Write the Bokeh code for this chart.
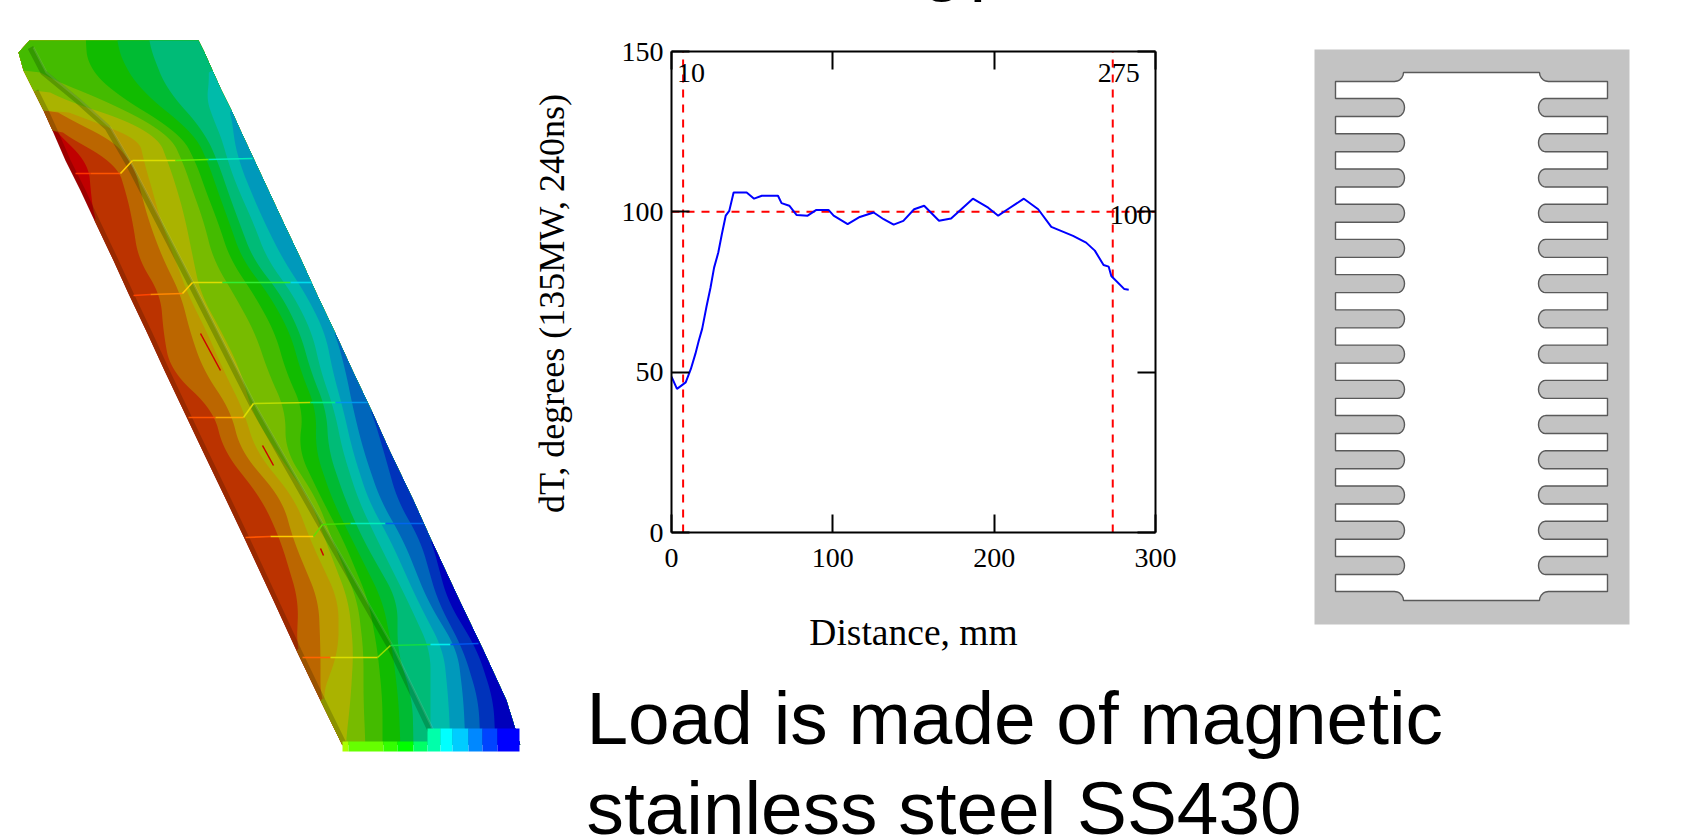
from bokeh.plotting import figure
from bokeh.models import Range1d, LinearAxis, FixedTicker
from bokeh.core.properties import value
from bokeh.embed import file_html
from bokeh.resources import INLINE
import numpy as np

# ---------- chart data ----------
distance_mm = [0, 3.4, 8.8, 12, 14.8, 16.9, 19, 21.8, 24.2, 26.4, 29, 31.2, 33.6, 35.8, 38.5, 46.6, 51.2, 56, 66,
               68.2, 73, 77.6, 84.4, 89.8, 97.3, 100.5, 109.2, 116.7, 125.3, 131.5, 137.7, 143.7, 150.4, 156.6,
               165.8, 173.3, 186.8, 196.3, 202.5, 208.4, 218.4, 227.3, 235.4, 248.9, 257, 262.4, 267.8, 271,
               272.6, 280.7, 283.4]
delta_t = [48.6, 44.8, 46.8, 51, 55.7, 59.8, 63.5, 70.7, 76.4, 82.6, 87.3, 93, 98.8, 100.3, 106, 106, 104.1, 105, 105,
           102.7, 101.9, 99, 98.8, 100.6, 100.6, 98.8, 96.2, 98.4, 99.8, 97.7, 96, 97.2, 100.8, 101.9,
           97.2, 97.9, 104.1, 101.3, 98.8, 100.8, 104.1, 100.8, 95.3, 92.5, 90.4, 87.9, 83.4, 82.9,
           80, 75.9, 75.7]
marker_x = [7.2, 273.5]
marker_y = [100]
x_ticks = [0, 100, 200, 300]
y_ticks = [0, 50, 100, 150]

# ---------- thermal map contour table ----------
band_colors = ["#C00000", "#BB3300", "#BB6600", "#BB9900", "#AAB300", "#77BB00", "#44BB00", "#11BB00",
               "#00BB33", "#00BB77", "#00BBAA", "#0099BB", "#0066BB", "#0033BB", "#0000BB"]
# y, left edge, end of band 0..13, right edge
map_rows = [
 [40, 29, 29, 29, 29, 29, 29, 29, 85, 115, 147, 198, 198, 198, 198, 198, 198],
 [52, 18, 18, 18, 18, 18, 18, 18, 86, 120, 152, 204, 204, 204, 204, 204, 204],
 [70, 23, 23, 23, 23, 23, 23, 23, 88, 125, 158, 212, 212, 212, 212, 212, 212],
 [90, 33, 33, 33, 33, 33, 33, 85, 112, 142, 167, 205, 221, 221, 221, 221, 221],
 [110, 43, 43, 43, 43, 43, 97, 122, 140, 163, 185, 208, 231, 231, 231, 231, 231],
 [130, 52, 52, 52, 100, 137, 155, 167, 178, 192, 203, 219, 232, 240, 240, 240, 240],
 [160, 65, 88, 115, 132, 143, 167, 182, 195, 207, 217, 227, 238, 254, 254, 254, 254],
 [190, 80, 90, 125, 140, 152, 177, 192, 205, 217, 227, 238, 250, 268, 268, 268, 268],
 [220, 94, 94, 132, 148, 160, 185, 203, 217, 228, 238, 252, 263, 282, 282, 282, 282],
 [260, 113, 113, 138, 163, 175, 193, 213, 230, 242, 253, 267, 283, 301, 301, 301, 301],
 [293, 128, 128, 160, 180, 187, 200, 233, 253, 268, 280, 292, 305, 316, 316, 316, 316],
 [333, 147, 147, 163, 190, 207, 222, 255, 275, 290, 300, 312, 325, 335, 335, 335, 335],
 [370, 164, 164, 170, 203, 223, 240, 267, 285, 300, 310, 320, 332, 345, 352, 352, 352],
 [410, 183, 183, 213, 230, 243, 251, 285, 303, 316, 326, 334, 343, 353, 371, 371, 371],
 [450, 202, 202, 223, 240, 255, 275, 285, 298, 315, 328, 342, 352, 363, 383, 389, 389],
 [500, 226, 226, 262, 282, 295, 310, 317, 322, 332, 345, 358, 368, 380, 397, 413, 413],
 [540, 245, 245, 280, 293, 310, 325, 332, 343, 352, 363, 377, 390, 403, 420, 431, 431],
 [600, 273, 273, 298, 318, 338, 348, 357, 368, 382, 397, 407, 417, 427, 437, 447, 459],
 [650, 296, 296, 296, 320, 338, 353, 363, 377, 392, 397, 430, 443, 457, 463, 477, 483],
 [700, 320, 320, 320, 320, 320, 350, 363, 382, 398, 412, 430, 448, 463, 478, 493, 506],
 [745, 342, 342, 342, 342, 342, 345, 365, 382, 400, 413, 430, 450, 465, 480, 495, 520],
]
end_face_edges = [342, 348, 383, 397, 413, 427, 440, 452, 468, 482, 497, 519]
end_face_colors = ["#AAFF00", "#66FF00", "#33FF00", "#00FF00", "#00FF66", "#00FFAA", "#00FFFF", "#00CCFF",
                   "#0088FF", "#0044FF", "#0000FF"]
ridge_x = [30, 43, 77, 107, 128, 190, 252, 322, 390, 430]
ridge_y = [47, 72, 100, 127, 163, 283, 405, 528, 647, 730]
seams = [
 ([75, 90, 120, 132, 175, 208, 252], [173, 173, 173, 160, 160, 159, 158],
  ["#FF3300", "#FF5500", "#FFCC00", "#DDDD00", "#66EE00", "#00EEBB"]),
 ([133, 150, 182, 192, 222, 290, 311], [295, 294, 293, 282, 282, 282, 282],
  ["#FF4400", "#FF8800", "#FFCC00", "#DDDD00", "#33EE33", "#00DDEE"]),
 ([188, 215, 243, 253, 310, 335, 367], [417, 417, 417, 403, 402, 402, 402],
  ["#FF5500", "#FFAA00", "#DDDD00", "#BBDD00", "#00EE88", "#0099EE"]),
 ([245, 270, 313, 322, 350, 385, 423], [537, 536, 536, 524, 523, 523, 523],
  ["#FF5500", "#FFCC00", "#66DD00", "#44DD00", "#00EEBB", "#0066EE"]),
 ([302, 330, 377, 390, 430, 450, 478], [657, 657, 657, 645, 644, 644, 643],
  ["#FF6600", "#DDDD00", "#99DD00", "#11DD44", "#00EEEE", "#0055EE"]),
]
flecks = [([200, 220], [333, 370]), ([262, 273], [445, 465]), ([320, 323], [548, 555])]

# ---------- comb outline ----------
n_fins = 14
fin_pitch = 35.23
sans = "Liberation Sans"
serif = "Liberation Serif"


def place(f, x, y):
    f.styles = {"position": "absolute", "left": f"{x}px", "top": f"{y}px"}
    return f


def blank(w, h, x0, y0):
    f = figure(width=w, height=h, output_backend="svg", toolbar_location=None,
               x_range=Range1d(x0, x0 + w), y_range=Range1d(y0 + h, y0),
               min_border=0, outline_line_color=None, background_fill_color=None, border_fill_color=None,
               x_axis_location=None, y_axis_location=None)
    f.grid.visible = False
    return place(f, x0, y0)


# ---------- left panel ----------
left = blank(530, 836, 0, 0)
table = np.array(map_rows, dtype=float)
ys = table[:, 0]
yy = np.arange(ys[0], ys[-1] + 1, 2.0)
left_edge = np.interp(yy, ys, table[:, 1])
right_edge = np.interp(yy, ys, table[:, -1])


def smooth(col):
    v = np.interp(yy, ys, col)
    n = 19
    pad = np.r_[np.full(n, v[0]), v, np.full(n, v[-1])]
    s = np.convolve(pad, np.ones(n) / n, mode="same")[n:-n]
    s = np.where(v <= left_edge + 0.01, left_edge, s)
    s = np.where(v >= right_edge - 0.01, right_edge, s)
    return np.clip(s, left_edge, right_edge)


left.patch(np.r_[left_edge, right_edge[::-1]], np.r_[yy, yy[::-1]], fill_color=band_colors[0], line_color=None)
for k in range(1, len(band_colors)):
    b = smooth(table[:, k + 1])
    left.patch(np.r_[b, right_edge[::-1]], np.r_[yy, yy[::-1]], fill_color=band_colors[k], line_color=None)
left.line(table[3:, 1] + 2.5, ys[3:], line_color="black", line_alpha=0.18, line_width=5)
left.line(ridge_x, ridge_y, line_color="#003300", line_alpha=0.25, line_width=6)
left.line(np.array(ridge_x) + 3, ridge_y, line_color="white", line_alpha=0.12, line_width=2)
for xs_f, ys_f in flecks:
    left.line(xs_f, ys_f, line_color="#CC0000", line_width=1.5)
for sx, sy, sc in seams:
    for i, c in enumerate(sc):
        left.line(sx[i:i + 2], sy[i:i + 2], line_color=c, line_width=1.6)
for i, c in enumerate(end_face_colors):
    a, b = end_face_edges[i], end_face_edges[i + 1]
    top = 741 if b <= 427 else 728
    left.quad(left=a, right=b, top=top, bottom=751, fill_color=c, line_color=None)

# ---------- chart ----------
p = figure(width=770, height=720, output_backend="svg", toolbar_location=None,
           x_range=Range1d(0, 300), y_range=Range1d(0, 150),
           min_border_left=141, min_border_right=145, min_border_top=51, min_border_bottom=188,
           x_axis_location=None, y_axis_location=None,
           outline_line_color=None, background_fill_color=None, border_fill_color=None)
place(p, 530, 0)
p.grid.visible = False
for side, ticks in (("below", x_ticks), ("above", x_ticks), ("left", y_ticks), ("right", y_ticks)):
    ax = LinearAxis(ticker=FixedTicker(ticks=ticks))
    ax.major_tick_in = 18
    ax.major_tick_out = 0
    ax.minor_tick_in = 0
    ax.minor_tick_out = 0
    ax.axis_line_color = "black"
    ax.axis_line_width = 2
    ax.major_tick_line_color = "black"
    ax.major_tick_line_width = 2
    ax.major_label_text_font = serif
    ax.major_label_text_font_size = "28px"
    ax.major_label_text_color = "black"
    if side in ("above", "right"):
        ax.major_label_text_font_size = "0px"
        ax.major_label_text_color = None
    if side == "below":
        ax.axis_label = "Distance, mm"
        ax.axis_label_text_font = serif
        ax.axis_label_text_font_style = "normal"
        ax.axis_label_text_color = "black"
        ax.axis_label_text_font_size = "37.5px"
        ax.axis_label_standoff = 42
        ax.major_label_standoff = 16
    if side == "left":
        ax.major_label_standoff = 8
    p.add_layout(ax, side)
dash = "8 7"
for mx in marker_x:
    p.line([mx, mx], [0, 150], line_color="#FF0000", line_width=2, line_dash=dash)
p.line([0, 300], [marker_y[0], marker_y[0]], line_color="#FF0000", line_width=2, line_dash=dash)
p.line(distance_mm, delta_t, line_color="#0000FF", line_width=2)
for txt, tx, ty, dx, dy in (("10", marker_x[0], 150, 8, 21), ("275", marker_x[1], 150, 6, 21), ("100", marker_x[1], 100, 18, 3)):
    p.text([tx], [ty], text=[txt], text_font=value(serif), text_font_size="28px", text_color="black",
           text_align="center", text_baseline="middle", x_offset=dx, y_offset=dy)

# ---------- rotated y title ----------
yt = blank(80, 500, 515, 55)
yt.text([551], [303], text=["dT, degrees (135MW, 240ns)"], text_font=value(serif), text_font_size="36px",
        text_color="black", text_align="center", text_baseline="middle", angle=np.pi / 2)

# ---------- cut-off heading above the chart ----------
top_text = blank(200, 130, 850, -100)
for frag, fx in (("g", 921), ("p", 969)):
    top_text.text([fx], [-13], text=[frag], text_font=value(sans), text_font_size="74.8px", text_color="black",
                  text_align="left", text_baseline="alphabetic", y_offset=-27)

# ---------- comb panel ----------
r = blank(403, 650, 1300, 0)
r.quad(left=1314, right=1629, top=49, bottom=624, fill_color="#C3C3C3", line_color=None)
th = np.linspace(-np.pi / 2, np.pi / 2, 13)
t2 = np.linspace(0, np.pi / 2, 6)
xl = list(1394 + 9 * np.cos(t2))
yl = list(72 + 9 * np.sin(t2))
xl += [1335, 1335]
yl += [81, 98]
for i in range(n_fins):
    top = 98 + i * fin_pitch
    cy = top + 9
    xl += list(1397 + 7 * np.cos(th)) + [1335]
    yl += list(cy + 9 * np.sin(th)) + [top + 18]
    if i < n_fins - 1:
        xl += [1335]
        yl += [top + fin_pitch]
xl += [1335, 1394]
yl += [591, 591]
xl += list(1394 + 9 * np.sin(t2))
yl += list(600 - 9 * np.cos(t2))
xl = np.array(xl, dtype=float)
yl = np.array(yl, dtype=float)
mirror = 1403 + 1539
xa = np.r_[xl, mirror - xl[::-1]]
ya = np.r_[yl, yl[::-1]]
r.patch(xa, ya, fill_color="white", line_color="#5A5A5A", line_width=1.4)

# ---------- text panel ----------
t = blank(1173, 186, 530, 650)
t.text([586, 586], [744, 834], text=["Load is made of magnetic", "stainless steel SS430"],
       text_font=value(sans), text_font_size="74.8px", text_color="black",
       text_align="left", text_baseline="alphabetic", y_offset=-27)

open("out.html", "w").write(file_html([left, p, yt, top_text, r, t], INLINE))
